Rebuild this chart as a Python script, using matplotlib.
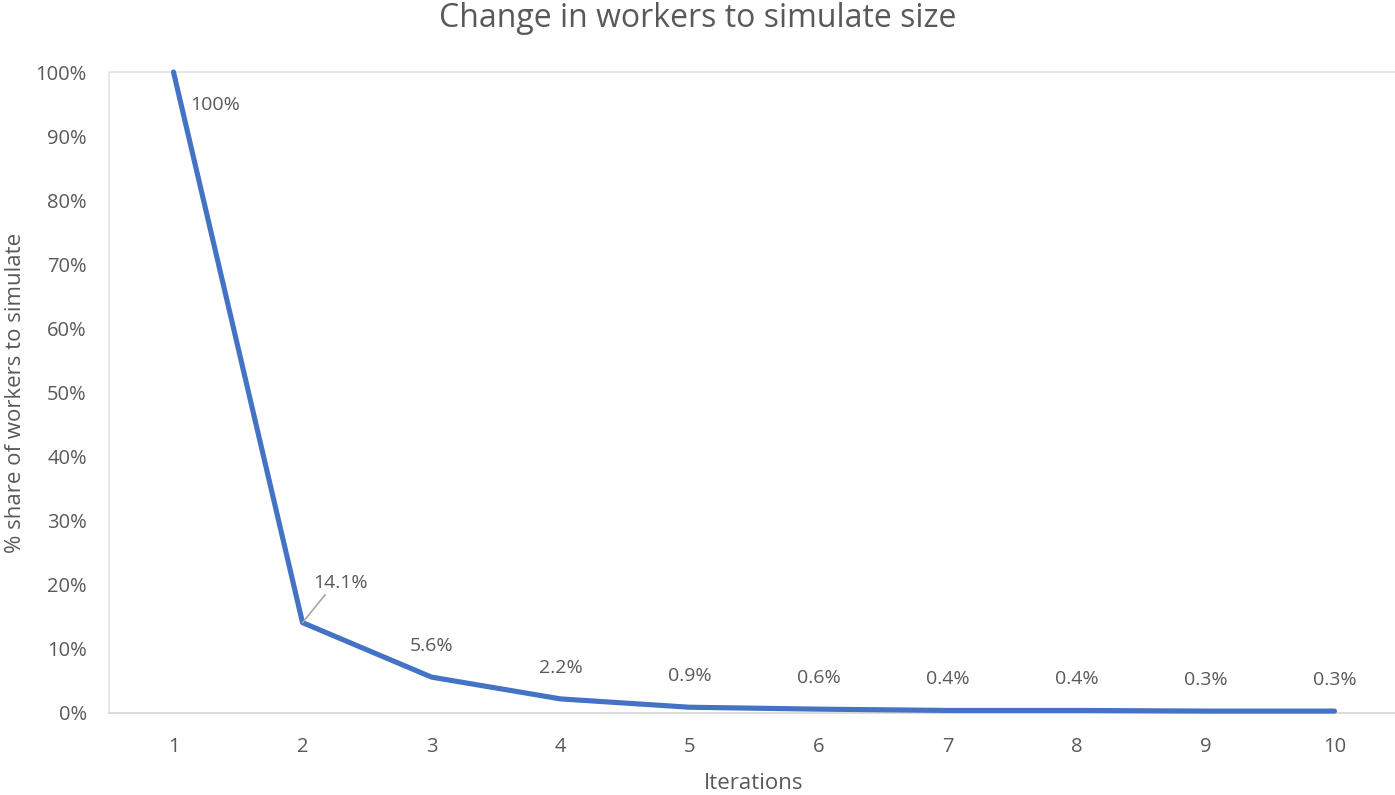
import matplotlib
matplotlib.use("Agg")
import matplotlib.pyplot as plt
import matplotlib.ticker as ticker

plt.rcParams["font.family"] = ["Open Sans", "DejaVu Sans"]

TEXT = "#595959"
LINE = "#4472C4"
FRAME = "#E6E6E6"

iterations = [1, 2, 3, 4, 5, 6, 7, 8, 9, 10]
share = [100.0, 14.1, 5.6, 2.2, 0.9, 0.6, 0.4, 0.4, 0.3, 0.3]
labels = ["100%", "14.1%", "5.6%", "2.2%", "0.9%", "0.6%", "0.4%", "0.4%", "0.3%", "0.3%"]

fig = plt.figure(figsize=(13.95, 7.95), dpi=100)
ax = fig.add_axes([109 / 1395, 1 - 713 / 795, 1290 / 1395, (713 - 72) / 795])

ax.plot(iterations, share, color=LINE, linewidth=3.7,
        solid_capstyle="round", solid_joinstyle="round", clip_on=False, zorder=3)

ax.set_xlim(0.5, 10.5)
ax.set_ylim(0, 100)
ax.set_xticks(iterations)
ax.yaxis.set_major_locator(ticker.MultipleLocator(10))
ax.yaxis.set_major_formatter(ticker.FuncFormatter(lambda v, _: f"{v:.0f}%"))
ax.tick_params(length=0, colors=TEXT, labelsize=14.5)
ax.tick_params(axis="x", pad=17)
ax.tick_params(axis="y", pad=16)

for side in ["top", "left", "right"]:
    ax.spines[side].set_color(FRAME)
    ax.spines[side].set_linewidth(1.3)
ax.spines["bottom"].set_color("#D9D9D9")
ax.spines["bottom"].set_linewidth(1.3)

# data labels
for i, (x, y, lab) in enumerate(zip(iterations, share, labels)):
    if i == 0:
        ax.annotate(lab, (x, y), xytext=(12, -30), textcoords="offset points",
                    color=TEXT, fontsize=14, ha="left", va="bottom")
    elif i == 1:
        ax.annotate(lab, (x, y), xytext=(8, 22), textcoords="offset points",
                    color=TEXT, fontsize=14, ha="left", va="bottom",
                    arrowprops=dict(arrowstyle="-", color="#A6A6A6", lw=1.2,
                                    shrinkA=0, shrinkB=0,
                                    relpos=(0.25, 0.0)))
    else:
        ax.annotate(lab, (x, y), xytext=(0, 16), textcoords="offset points",
                    color=TEXT, fontsize=14, ha="center", va="bottom")

ax.set_xlabel("Iterations", color=TEXT, fontsize=16, labelpad=12)
ax.set_ylabel("% share of workers to simulate", color=TEXT, fontsize=16, labelpad=7)
fig.suptitle("Change in workers to simulate size", color=TEXT, fontsize=23,
             y=0.998, va="top")

fig.savefig("out.png", dpi=100)
